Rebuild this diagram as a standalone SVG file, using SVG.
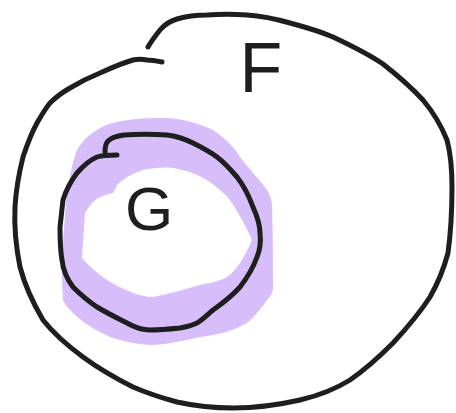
<svg xmlns="http://www.w3.org/2000/svg" width="456" height="413" viewBox="0 0 456 413">
<style>
.ink{fill:none;stroke:#1e1e1e;stroke-width:5;stroke-linecap:round;stroke-linejoin:round}
.hl{fill:#d8bdfb;fill-rule:evenodd;stroke:none}
.lbl{font-family:"Liberation Sans","DejaVu Sans",sans-serif;fill:#1e1e1e;text-anchor:middle}
</style>
<rect width="456" height="413" fill="#ffffff"/>
<g id="highlight">
<path class="hl" d="M117,122 C135,118 150,118 167,118 C185,119 200,124 213,130 C228,140 236,150 240,157 C250,170 260,180 267,190 C271,197 272,202 272,207 C273,235 273,265 273,290 C271,296 268,299 267,300 C260,310 253,318 247,323 C232,332 215,335 200,337 C182,341 165,345 150,345 C135,344 122,341 110,337 C95,330 82,322 73,313 C67,307 64,303 63,300 C62,285 62,270 62,260 C63,240 65,215 67,193 C70,175 73,160 77,150 C83,140 90,134 97,130 C105,125 111,123 117,122 Z
M123,180 C130,175 136,172 143,170 C153,168 163,167 173,168 C185,170 197,174 207,180 C216,186 224,193 230,200 C238,212 246,226 252,240 C248,249 244,257 240,263 C236,269 231,274 227,277 C218,282 209,283 200,285 C185,289 168,294 153,297 C146,297 139,295 133,293 C124,289 115,285 107,280 C98,274 89,266 82,258 C83,243 84,228 85,213 C89,206 94,200 100,197 C104,195 109,194 113,193 C115,190 116,187 117,185 C119,183 121,181 123,180 Z"/>
</g>
<g id="F">
<path class="ink" d="M148,47 C152,40 156,35 160,30 C165,24 170,21 177,19 C187,16 197,15 207,15 C220,14 234,14 247,15 C262,16 276,19 290,23 C305,27 319,31 333,37 C350,45 367,53 383,64 C397,75 411,87 423,100 C433,112 441,125 447,140 C451,155 452,171 452,187 C452,209 451,231 448,253 C444,268 438,283 430,297 C419,314 406,329 393,343 C380,356 366,369 350,380 C334,390 317,396 300,400 C278,405 256,408 233,408 C214,408 195,406 177,402 C162,398 147,393 133,387 C115,378 98,368 83,357 C68,346 54,334 43,320 C33,303 25,286 20,267 C16,247 14,227 15,207 C16,190 19,173 23,157 C27,145 31,134 37,123 C41,116 45,109 50,103 C56,97 63,92 70,88 C80,82 90,77 100,73 C111,68 122,63 133,60 C138,59 142,59 147,60 C152,60 157,61 162,62"/>
<text class="lbl" x="261" y="92" font-size="70">F</text>
</g>
<g id="G">
<path class="ink" d="M105,152 C105,147 106,143 108,141 C112,137 117,136 124,135 C138,134 152,134 167,135 C176,136 185,139 193,143 C201,147 209,151 217,157 C225,163 231,170 237,177 C244,186 249,196 253,207 C257,216 260,225 260,233 C261,242 260,250 257,257 C253,268 247,278 240,287 C232,296 223,303 213,310 C207,315 202,320 197,323 C191,326 186,327 180,328 C170,329 160,330 150,330 C142,330 134,327 127,323 C117,318 107,313 97,307 C88,301 80,294 73,287 C67,279 63,270 62,260 C60,249 60,238 60,227 C61,218 62,209 63,200 C66,190 71,181 77,173 C83,166 90,160 97,157 C103,155 110,155 117,155"/>
<text class="lbl" x="149" y="230" font-size="62">G</text>
</g>
</svg>
